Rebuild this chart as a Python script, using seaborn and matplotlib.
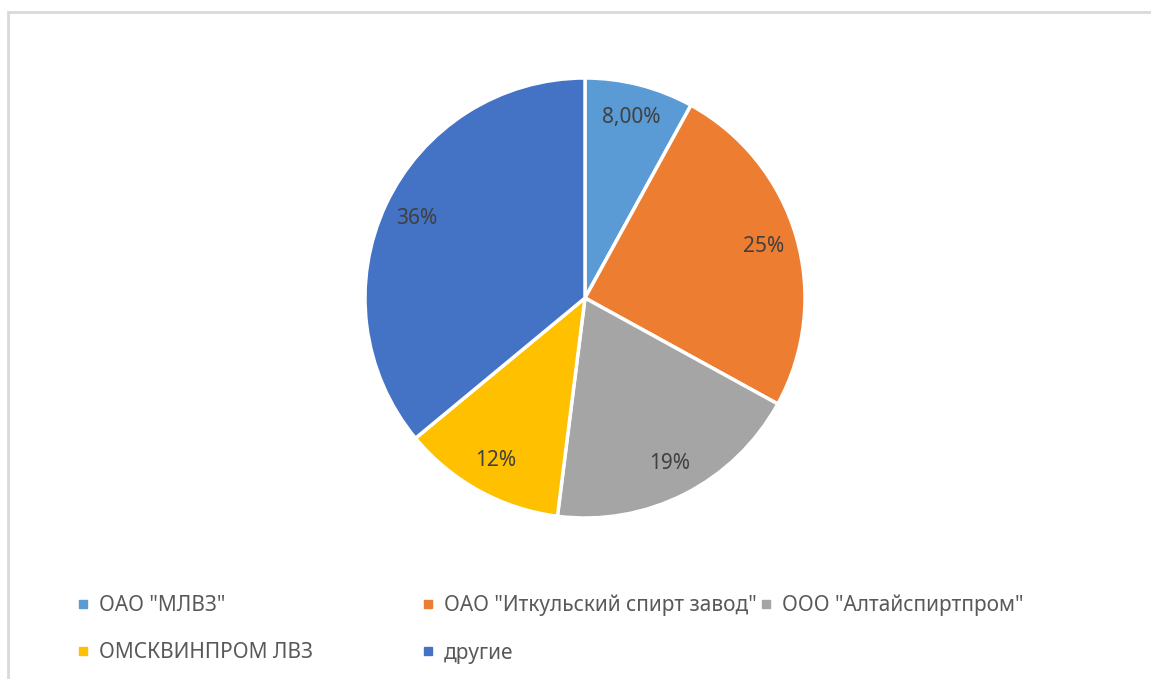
import matplotlib
matplotlib.use("Agg")
import numpy as np
import matplotlib.pyplot as plt
from matplotlib.lines import Line2D
from matplotlib.patches import Rectangle
import seaborn as sns

# Data
companies = ['ОАО "МЛВЗ"', 'ОАО "Иткульский спирт завод"', 'ООО "Алтайспиртпром"',
             'ОМСКВИНПРОМ ЛВЗ', 'другие']
shares = [8, 25, 19, 12, 36]
pct_labels = ['8,00%', '25%', '19%', '12%', '36%']
colors = ['#5B9BD5', '#ED7D31', '#A5A5A5', '#FFC000', '#4472C4']

sns.set_theme(style="white")
plt.rcParams['font.family'] = ['Noto Sans', 'DejaVu Sans']

fig = plt.figure(figsize=(11.51, 6.79), dpi=100)

# light frame like the Excel chart area
fig.patches.append(Rectangle((8 / 1151, -0.01), 1.02, 1 - 12 / 679 + 0.01,
                             transform=fig.transFigure, fill=False,
                             edgecolor='#D9D9D9', linewidth=2))

ax = fig.add_axes([365 / 1151, (381 - 220) / 679, 440 / 1151, 440 / 679])
wedges, _ = ax.pie(shares, colors=sns.color_palette(colors), startangle=90,
                   counterclock=False,
                   wedgeprops=dict(edgecolor='white', linewidth=2.5))

# percentage labels inside the slices
for w, lab in zip(wedges, pct_labels):
    ang = np.deg2rad((w.theta1 + w.theta2) / 2)
    ax.text(0.845 * np.cos(ang), 0.845 * np.sin(ang), lab, ha='center', va='center',
            fontsize=15, color='#404040')
ax.set_xlim(-1, 1)
ax.set_ylim(-1, 1)
ax.set_aspect('equal')

# legend, laid out in columns like the original
def handle(c):
    return Line2D([], [], marker='s', linestyle='', markersize=6,
                  markerfacecolor=c, markeredgecolor=c)

columns = [([0, 3], 76), ([1, 4], 421), ([2], 759)]
for idx, x in columns:
    fig.legend([handle(colors[i]) for i in idx], [companies[i] for i in idx],
               loc='upper left', bbox_to_anchor=(x / 1151, 1 - 595 / 679),
               frameon=False, fontsize=15, handlelength=0.7,
               handletextpad=0.4, labelspacing=1.25, borderaxespad=0,
               borderpad=0, labelcolor='#595959')

fig.savefig("out.png", dpi=100, facecolor='white')
